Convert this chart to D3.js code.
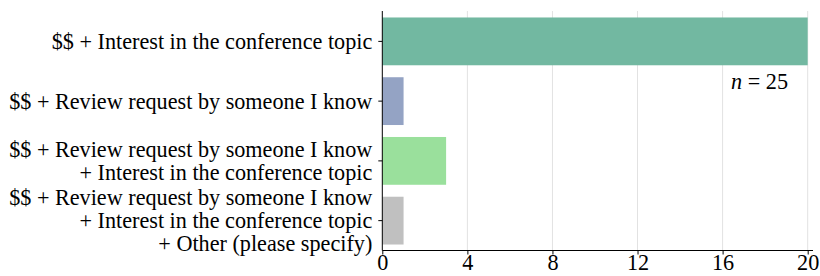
<!DOCTYPE html>
<html>
<head>
<meta charset="utf-8">
<script src="https://cdn.jsdelivr.net/npm/d3@7"></script>
<style>
  html, body { margin: 0; padding: 0; background: #fff; }
  svg { display: block; }
  text { font-family: "Liberation Serif", serif; fill: #000; }
</style>
</head>
<body>
<svg id="chart" width="820" height="276"></svg>
<script>
/* ── Data ─────────────────────────────────────────────────────────────────── */

const categories = [
  ["$$ + Interest in the conference topic"],
  ["$$ + Review request by someone I know"],
  ["$$ + Review request by someone I know", "+ Interest in the conference topic"],
  ["$$ + Review request by someone I know", "+ Interest in the conference topic", "+ Other (please specify)"],
];
const counts = [20, 1, 3, 1];
const barColors = ["#72b8a1", "#94a3c4", "#9ae09c", "#c0c0c0"];
const xTicks = [0, 4, 8, 12, 16, 20];
const sampleSize = 25;

/* ── Layout ───────────────────────────────────────────────────────────────── */

const svg = d3.select("#chart");
const plotL = 382.3, plotR = 813, plotT = 11.5, plotB = 250.5;
const fontSize = 22.2;

const x = d3.scaleLinear().domain([0, 20.25]).range([plotL, plotR]);
const y = d3
  .scaleBand()
  .domain(d3.range(categories.length))
  .range([plotT, plotB])
  .paddingInner(0.2)
  .paddingOuter(0.1);

// Gridlines
svg
  .append("g")
  .selectAll("line")
  .data(xTicks.filter((t) => t > 0))
  .join("line")
  .attr("x1", (d) => x(d))
  .attr("x2", (d) => x(d))
  .attr("y1", plotT - 0.5)
  .attr("y2", plotB)
  .attr("stroke", "#e2e2e2")
  .attr("stroke-width", 1);

// Bars
svg
  .append("g")
  .selectAll("rect")
  .data(counts)
  .join("rect")
  .attr("x", x(0))
  .attr("y", (_, i) => y(i))
  .attr("width", (d) => x(d) - x(0))
  .attr("height", y.bandwidth())
  .attr("fill", (_, i) => barColors[i]);

// X axis
const xAxis = svg
  .append("g")
  .attr("transform", `translate(0,${plotB})`)
  .call(d3.axisBottom(x).tickValues(xTicks).tickSize(4).tickPadding(0));
xAxis.attr("font-family", null).attr("font-size", null);
xAxis.select(".domain").attr("stroke", "#000").attr("d", `M${plotL},0H${plotR}`);
xAxis.selectAll(".tick line").attr("stroke", "#000");
xAxis.selectAll(".tick text").attr("font-size", fontSize);

// Y axis
const yAxis = svg
  .append("g")
  .attr("transform", `translate(${plotL},0)`)
  .call(d3.axisLeft(y).tickSize(4).tickFormat(""));
yAxis.select(".domain").attr("stroke", "#000").attr("d", `M0,${plotT - 0.5}V${plotB}`);
yAxis.selectAll(".tick line").attr("stroke", "#000");

// Y labels (multi-line, right aligned, centred on tick)
const lineH = 23;
const labels = svg.append("g");
categories.forEach((lines, i) => {
  const cy = y(i) + y.bandwidth() / 2;
  const t = labels
    .append("text")
    .attr("text-anchor", "end")
    .attr("font-size", fontSize)
    .attr("x", plotL - 10);
  lines.forEach((ln, j) => {
    t.append("tspan")
      .attr("x", plotL - 10)
      .attr("y", cy + (j - (lines.length - 1) / 2) * lineH)
      .attr("dy", "0.35em")
      .text(ln);
  });
});

// n annotation
const note = svg
  .append("text")
  .attr("x", 788)
  .attr("y", 89)
  .attr("text-anchor", "end")
  .attr("font-size", fontSize);
note.append("tspan").attr("font-style", "italic").text("n");
note.append("tspan").text(` = ${sampleSize}`);
</script>
</body>
</html>
